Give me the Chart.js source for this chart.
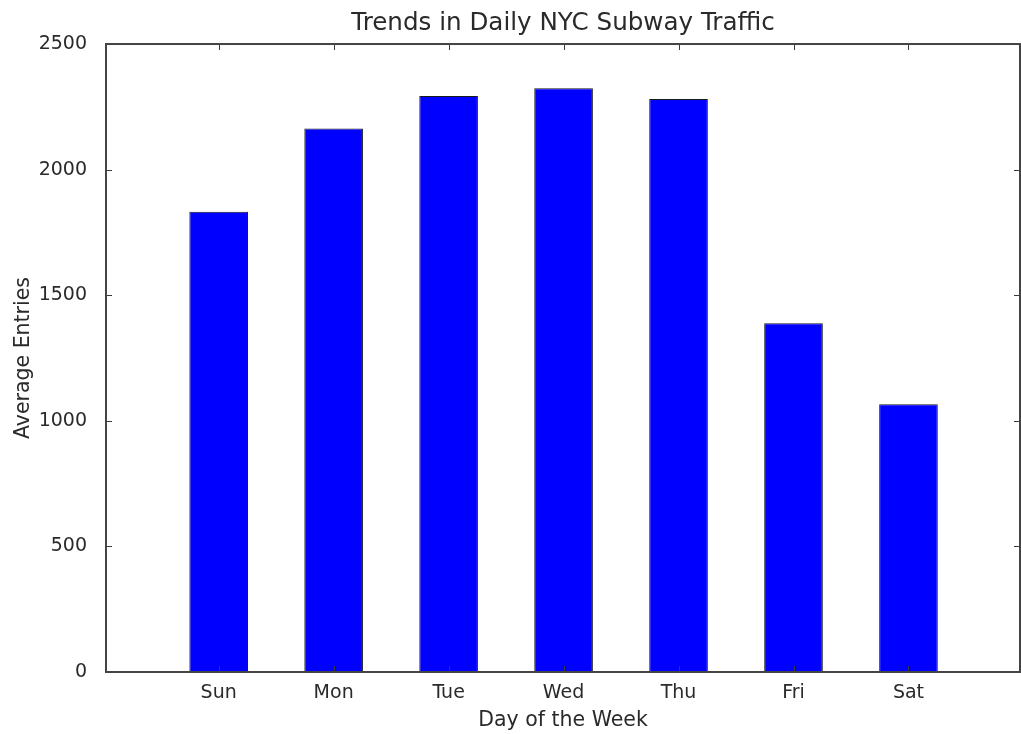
<!DOCTYPE html>
<html>
<head>
<meta charset="utf-8">
<script src="https://cdn.jsdelivr.net/npm/chart.js@4/dist/chart.umd.min.js"></script>
<style>
html, body { margin: 0; padding: 0; background: #ffffff; }
#wrap { width: 1021px; height: 734px; }
</style>
</head>
<body>
<div id="wrap"><canvas id="c" width="1021" height="734"></canvas></div>
<script>
const days = ['Sun', 'Mon', 'Tue', 'Wed', 'Thu', 'Fri', 'Sat'];
const avgEntries = [1832, 2164, 2293, 2324, 2281, 1388, 1066];
const yTicks = [0, 500, 1000, 1500, 2000, 2500];
const chartTitle = 'Trends in Daily NYC Subway Traffic';
const xTitle = 'Day of the Week';
const yTitle = 'Average Entries';

const FONT = 'DejaVu Sans';
const TEXT = '#2a2a2a';

const frameAndTicks = {
  id: 'frameAndTicks',
  afterDatasetsDraw(chart) {
    const {ctx, chartArea: a, scales} = chart;
    ctx.save();
    ctx.strokeStyle = '#3a3a3a';
    ctx.lineWidth = 1;
    const len = 6;
    ctx.beginPath();
    scales.x.ticks.forEach(t => {
      const px = Math.round(scales.x.getPixelForValue(t.value)) + 0.5;
      ctx.moveTo(px, a.bottom); ctx.lineTo(px, a.bottom - len);
      ctx.moveTo(px, a.top); ctx.lineTo(px, a.top + len);
    });
    scales.y.ticks.forEach(t => {
      const py = Math.round(scales.y.getPixelForValue(t.value)) + 0.5;
      ctx.moveTo(a.left, py); ctx.lineTo(a.left + len, py);
      ctx.moveTo(a.right, py); ctx.lineTo(a.right - len, py);
    });
    ctx.stroke();
    ctx.lineWidth = 2;
    ctx.strokeStyle = '#444444';
    ctx.strokeRect(a.left, a.top, a.right - a.left, a.bottom - a.top);
    ctx.restore();
  }
};

new Chart(document.getElementById('c'), {
  type: 'bar',
  data: {
    datasets: [{
      data: days.map((d, i) => ({x: i, y: avgEntries[i]})),
      backgroundColor: '#0000ff',
      borderColor: '#1a1a1a',
      borderWidth: 1,
      barPercentage: 0.51,
      categoryPercentage: 1.0
    }]
  },
  options: {
    responsive: false,
    animation: false,
    layout: { padding: { left: 0, right: 1, top: 0, bottom: 0 } },
    plugins: {
      legend: { display: false },
      tooltip: { enabled: false },
      title: {
        display: true,
        fullSize: false,
        text: chartTitle,
        color: TEXT,
        font: { family: FONT, size: 24.6, weight: 'normal', lineHeight: 1.2 },
        padding: { top: 9, bottom: 5.5 }
      }
    },
    scales: {
      x: {
        type: 'linear',
        offset: false,
        min: -0.98,
        max: 6.97,
        grid: { display: false, offset: false },
        border: { display: false },
        afterBuildTicks(scale) { scale.ticks = days.map((d, i) => ({value: i})); },
        afterFit(scale) { scale.height = 62; },
        ticks: {
          color: TEXT,
          font: { family: FONT, size: 19 },
          padding: 2,
          maxRotation: 0,
          autoSkip: false,
          callback: (v) => days[v] !== undefined ? days[v] : ''
        },
        title: {
          display: true,
          text: xTitle,
          color: TEXT,
          font: { family: FONT, size: 20.5 },
          padding: { top: 0, bottom: 1 }
        }
      },
      y: {
        min: 0,
        max: 2500,
        grid: { display: false },
        border: { display: false },
        afterBuildTicks(scale) { scale.ticks = yTicks.map(v => ({value: v})); },
        afterFit(scale) { scale.width = 106; },
        ticks: {
          color: TEXT,
          font: { family: FONT, size: 19 },
          padding: 11,
          callback: (v) => String(v)
        },
        title: {
          display: true,
          text: yTitle,
          color: TEXT,
          font: { family: FONT, size: 20.5 },
          padding: { top: 11, bottom: 0 }
        }
      }
    }
  },
  plugins: [frameAndTicks]
});
</script>
</body>
</html>
